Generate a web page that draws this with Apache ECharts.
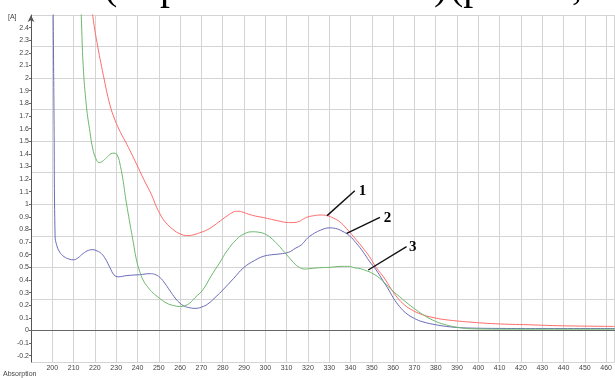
<!DOCTYPE html>
<html>
<head>
<meta charset="utf-8">
<script src="https://cdn.jsdelivr.net/npm/echarts@6/dist/echarts.min.js"></script>
<style>
  html, body { margin: 0; padding: 0; background: #fff; }
  #chart { width: 615px; height: 378px; }
</style>
</head>
<body>
<div id="chart"></div>
<script>
// Absorption spectra, wavelength (nm) vs absorbance [A]
const spectrum1 = [ // red
  [218.3, 2.6], [219, 2.49], [221, 2.28], [224, 2.02], [227, 1.79], [229.5, 1.665], [232, 1.57],
  [235, 1.475], [239.5, 1.32], [243, 1.195], [246.6, 1.075], [248.5, 0.995], [250.5, 0.925], [253, 0.86],
  [256.7, 0.80], [260, 0.765], [263.5, 0.752], [266, 0.757], [269, 0.773], [273, 0.80], [277, 0.845],
  [281, 0.895], [284.8, 0.937], [287, 0.945], [289.5, 0.937], [292, 0.922], [295, 0.908], [299, 0.895],
  [303, 0.88], [307, 0.865], [310, 0.856], [313, 0.855], [316, 0.865], [318, 0.885], [320, 0.9],
  [323, 0.91], [326, 0.915], [329, 0.91], [332, 0.89], [335, 0.86], [338, 0.81], [342.6, 0.72],
  [345.5, 0.66], [348.8, 0.587], [352, 0.5], [355.8, 0.416], [359, 0.33], [362, 0.26], [364.4, 0.217],
  [368, 0.17], [373.8, 0.125], [380, 0.098], [384.7, 0.085], [395.6, 0.067], [408, 0.053],
  [423.7, 0.045], [439.4, 0.037], [464, 0.032]
];
const spectrum2 = [ // blue
  [200.2, 3.0], [200.8, 1.7], [201.3, 0.75], [202, 0.68], [203.5, 0.62], [205.5, 0.585], [208, 0.565],
  [210, 0.56], [212, 0.575], [214.5, 0.61], [217, 0.635], [219, 0.64], [221, 0.63], [223, 0.61],
  [225, 0.565], [227, 0.5], [229, 0.44], [231, 0.425], [235, 0.435], [241, 0.442], [246, 0.45],
  [248, 0.445], [250.5, 0.42], [253, 0.37], [255, 0.32], [258, 0.25], [260, 0.215], [262, 0.192],
  [264, 0.182], [267, 0.175], [270, 0.185], [273, 0.21], [277, 0.27], [280, 0.32], [285, 0.41],
  [290, 0.5], [295, 0.555], [299, 0.587], [303, 0.6], [307, 0.607], [311, 0.62], [314, 0.65],
  [317, 0.68], [320, 0.735], [323, 0.77], [326, 0.795], [330, 0.813], [333, 0.808], [336, 0.788],
  [339.5, 0.75], [342.6, 0.694], [346, 0.62], [348.8, 0.55], [352, 0.48], [355, 0.40], [358, 0.32],
  [360, 0.26], [363, 0.19], [366, 0.138], [370, 0.095], [374, 0.068], [380, 0.045], [385, 0.032],
  [390, 0.024], [396, 0.019], [410, 0.016], [430, 0.015], [464, 0.015]
];
const spectrum3 = [ // green
  [213.3, 2.6], [213.6, 2.49], [214.5, 2.1], [216, 1.78], [217.7, 1.57], [219, 1.44], [220.5, 1.36],
  [222, 1.33], [223.5, 1.34], [225.5, 1.37], [227.5, 1.40], [229, 1.405], [230.5, 1.39], [232, 1.30],
  [233.3, 1.18], [234.5, 1.04], [236.4, 0.85], [238, 0.70], [239.5, 0.56], [241, 0.47], [242.6, 0.40],
  [245, 0.34], [247.3, 0.297], [250, 0.26], [253.6, 0.217], [257, 0.197], [259.8, 0.19], [262, 0.195],
  [264.5, 0.217], [267, 0.26], [270.7, 0.323], [274.5, 0.43], [278.5, 0.535], [282, 0.63],
  [286.4, 0.72], [290, 0.765], [294, 0.782], [297, 0.778], [300.4, 0.76], [303.5, 0.72], [306.6, 0.667],
  [309, 0.62], [311.3, 0.575], [314, 0.525], [316, 0.5], [318.4, 0.487], [321, 0.49], [325.4, 0.497],
  [330, 0.5], [336.3, 0.508], [339.4, 0.508], [341.8, 0.497], [344.5, 0.49], [347.3, 0.474],
  [350, 0.455], [353.5, 0.416], [357, 0.36], [360, 0.31], [362.9, 0.27], [366, 0.225], [370.7, 0.164],
  [375, 0.115], [380, 0.071], [384, 0.048], [387.8, 0.032], [392, 0.02], [397.2, 0.013], [420, 0.01],
  [464, 0.01]
];

// Axis ticks
const xTicks = [200, 210, 220, 230, 240, 250, 260, 270, 280, 290, 300, 310, 320, 330, 340, 350,
  360, 370, 380, 390, 400, 410, 420, 430, 440, 450, 460];
const yTicks = [-0.2, -0.1, 0, 0.1, 0.2, 0.3, 0.4, 0.5, 0.6, 0.7, 0.8, 0.9, 1, 1.1, 1.2, 1.3,
  1.4, 1.5, 1.6, 1.7, 1.8, 1.9, 2, 2.1, 2.2, 2.3, 2.4];

// Curve labels: anchor on the curve, end of leader, label position (data units)
const callouts = [
  { text: '1', anchor: [329, 0.91], tip: [342.0, 1.108], label: [345.6, 1.105] },
  { text: '2', anchor: [338.2, 0.77], tip: [353.8, 0.897], label: [357.4, 0.89] },
  { text: '3', anchor: [348.3, 0.479], tip: [366.3, 0.664], label: [369.2, 0.66] }
];

const gridColor = '#d4d4d4';
const labelStyle = { fontSize: 7, color: '#444', fontFamily: 'Liberation Sans, Arial, sans-serif' };

const chart = echarts.init(document.getElementById('chart'), null, { renderer: 'canvas' });

const lineSeries = (data, color) => ({
  type: 'line',
  data: data,
  showSymbol: false,
  smooth: 0.45,
  clip: true,
  silent: true,
  lineStyle: { color: color, width: 1 },
  xAxisIndex: 0,
  yAxisIndex: 0
});

chart.setOption({
  animation: false,
  backgroundColor: '#fff',
  grid: { left: 31, right: 0, top: 15, bottom: 16 },
  xAxis: {
    type: 'value',
    min: 190, max: 464, interval: 10,
    axisLine: { show: true, lineStyle: { color: '#666', width: 1 } },
    axisTick: { show: false },
    axisLabel: {
      ...labelStyle,
      margin: 3,
      customValues: xTicks,
      formatter: v => String(v)
    },
    splitLine: { show: true, lineStyle: { color: gridColor, width: 1 } }
  },
  yAxis: [
    {
      type: 'value',
      position: 'left',
      min: -0.25, max: 2.5,
      axisLine: { show: true, lineStyle: { color: '#555', width: 1 }, symbol: ['none', 'arrow'], symbolSize: [5, 7] },
      axisTick: { show: true, length: 2, customValues: yTicks, lineStyle: { color: '#666' } },
      axisLabel: {
        ...labelStyle,
        margin: 2,
        customValues: yTicks,
        formatter: v => String(Number(v.toFixed(1)))
      },
      splitLine: { show: false }
    },
    {
      type: 'value',
      position: 'left',
      min: -0.25, max: 2.5, interval: 0.25,
      axisLine: { show: false },
      axisTick: { show: false },
      axisLabel: { show: false },
      splitLine: { show: true, lineStyle: { color: gridColor, width: 1 } }
    }
  ],
  series: [
    lineSeries(spectrum1, '#ff6b6b'),
    lineSeries(spectrum2, '#6a6ab8'),
    lineSeries(spectrum3, '#6cb86c')
  ]
});

// Leader lines and numbers for the three spectra, placed through the axes
const toPx = p => chart.convertToPixel({ xAxisIndex: 0, yAxisIndex: 0 }, p);
const graphics = [];
callouts.forEach(c => {
  const a = toPx(c.anchor), t = toPx(c.tip), l = toPx(c.label);
  graphics.push({
    type: 'line', silent: true, z: 100,
    shape: { x1: a[0], y1: a[1], x2: t[0], y2: t[1] },
    style: { stroke: '#111', lineWidth: 1.4 }
  });
  graphics.push({
    type: 'text', silent: true, z: 100,
    x: l[0], y: l[1],
    style: {
      text: c.text, fill: '#000',
      font: 'bold 15px "Liberation Serif", "Times New Roman", serif',
      align: 'center', verticalAlign: 'middle'
    }
  });
});

// Line of page text above the plot; only its lower edge falls inside the frame
const serif = '40px "Liberation Serif", "Times New Roman", serif';
[['(', 104], ['p', 160], [')', 434], ['(p', 450], [',', 572]].forEach(([s, x]) => {
  graphics.push({
    type: 'text', silent: true, x: x, y: -12,
    style: { text: s, fill: '#000', font: serif, align: 'left', verticalAlign: 'middle' }
  });
});
graphics.push({
  type: 'text', silent: true, x: 8, y: 17,
  style: { text: '[A]', fill: '#444', font: '7px "Liberation Sans", Arial, sans-serif', align: 'left', verticalAlign: 'middle' }
});
graphics.push({
  type: 'text', silent: true, x: 3, y: 374,
  style: { text: 'Absorption', fill: '#444', font: '7px "Liberation Sans", Arial, sans-serif', align: 'left', verticalAlign: 'middle' }
});

chart.setOption({ graphic: graphics });
</script>
</body>
</html>
